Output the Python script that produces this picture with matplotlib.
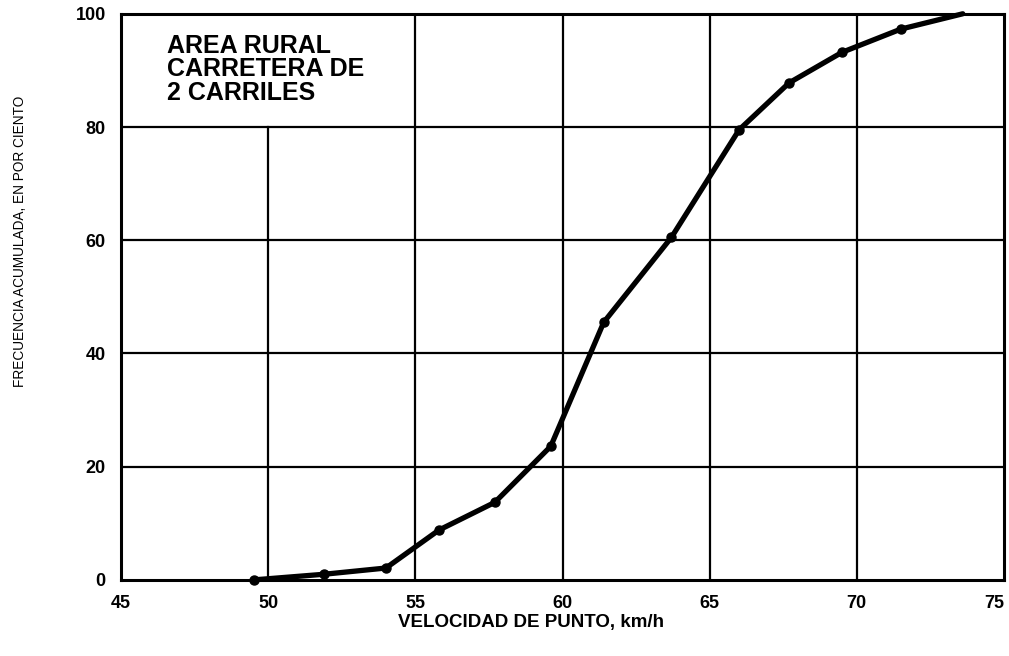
import matplotlib
matplotlib.use('Agg')
import matplotlib.pyplot as plt

# velocidad de punto (km/h) vs frecuencia acumulada (%)
velocidad = [49.5, 51.9, 54.0, 55.8, 57.7, 59.6, 61.4, 63.7, 66.0, 67.7, 69.5, 71.5, 73.6]
frecuencia = [0.0, 1.0, 2.1, 8.8, 13.7, 23.6, 45.5, 60.5, 79.5, 87.8, 93.2, 97.3, 100.0]

x_ticks = [45, 50, 55, 60, 65, 70, 75]
y_ticks = [0, 20, 40, 60, 80, 100]
leyenda = 'AREA RURAL\nCARRETERA DE\n2 CARRILES'

plt.rcParams['font.family'] = ['Liberation Sans', 'DejaVu Sans']

fig = plt.figure(figsize=(10.09, 6.56), dpi=100)
ax = fig.add_axes([0.120, 0.116, 0.875, 0.863])

ax.set_xlim(45, 75)
ax.set_ylim(0, 100)

# cuadricula (la linea de 50 no cruza el recuadro del texto)
for xv in x_ticks[1:-1]:
    top = 80 if xv == 50 else 100
    ax.plot([xv, xv], [0, top], color='black', lw=1.6, zorder=1)
for yv in y_ticks[1:-1]:
    ax.plot([45, 75], [yv, yv], color='black', lw=1.6, zorder=1)

ax.plot(velocidad, frecuencia, color='black', lw=3.8, solid_capstyle='round',
        solid_joinstyle='round', marker='o', markersize=6.5,
        markevery=list(range(len(velocidad) - 1)), zorder=3, clip_on=False)

for s in ax.spines.values():
    s.set_linewidth(2.2)

ax.set_xticks(x_ticks)
ax.set_yticks(y_ticks)
ax.tick_params(length=0, labelsize=13)
ax.tick_params(axis='x', pad=11)
ax.tick_params(axis='y', pad=11)
for lab in ax.get_xticklabels() + ax.get_yticklabels():
    lab.set_fontweight('bold')
ax.get_xticklabels()[-1].set_horizontalalignment('right')

ax.text(46.55, 96.4, leyenda, fontsize=18, fontweight='bold', va='top', ha='left',
        linespacing=0.96)

fig.text(531 / 1009, 1 - 622 / 656, 'VELOCIDAD DE PUNTO, km/h', fontsize=13.5,
         fontweight='bold', ha='center', va='center')
fig.text(20 / 1009, 1 - 241 / 656, 'FRECUENCIA ACUMULADA, EN POR CIENTO', fontsize=9.8,
         rotation=90, ha='center', va='center')

fig.savefig('out.png', dpi=100)
